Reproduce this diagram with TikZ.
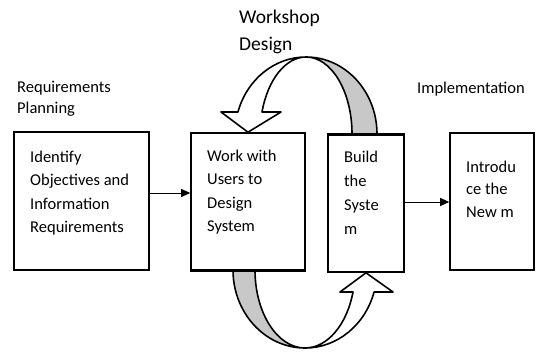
\documentclass[tikz,border=0pt]{standalone}
\usepackage{fontspec}
\setmainfont{Carlito}
\usetikzlibrary{arrows.meta}
\definecolor{bandgrey}{RGB}{200,200,200}
\tikzset{
  stage/.style={draw, line width=1.6pt, inner sep=0pt},
  boxtext/.style={anchor=north west, inner sep=0pt, align=left, font=\fontsize{16.5}{23.5}\selectfont},
  flow/.style={line width=1pt, -{Triangle[length=9pt,width=8pt]}},
  bendarrow/.style={line width=1.6pt, line join=round}
}
\begin{document}
\begin{tikzpicture}[x=1pt,y=-1pt]

    % Fix the page to the size of the reference
    \useasboundingbox (0,0) rectangle (536,353);

    % Centres of the two bent arrows
    \coordinate (topc) at (306,134);
    \coordinate (botc) at (305,270);

    % The four stages of the process
    \node[stage, minimum width=135pt, minimum height=138pt] (ident) at (81.5,201) {};
    \node[stage, minimum width=114pt, minimum height=137pt] (work) at (248,201.5) {};
    \node[stage, minimum width=76pt, minimum height=137pt] (build) at (366,203.5) {};
    \node[stage, minimum width=84pt, minimum height=137pt] (intro) at (492,201.5) {};

    % Grey back of the upper arrow, rising from the build box
    \draw[bendarrow, fill=bandgrey] (topc) ++(71,0)
        arc[start angle=0, end angle=-90, x radius=71, y radius=77]
        arc[start angle=-90, end angle=0, x radius=46, y radius=77] -- cycle;

    % White front of the upper arrow, coming down onto the work box
    \draw[bendarrow, fill=white] (topc) ++(0,-77)
        arc[start angle=-90, end angle=-163.4, x radius=71, y radius=77]
        -- (221,112) -- (work.north) -- (281,112) -- (262,112)
        arc[start angle=-163.4, end angle=-90, x radius=46, y radius=77] -- cycle;

    % Grey back of the lower arrow, leaving the work box
    \draw[bendarrow, fill=bandgrey] (botc) ++(-72,0)
        arc[start angle=180, end angle=90, x radius=72, y radius=78]
        arc[start angle=90, end angle=180, x radius=50, y radius=78] -- cycle;

    % White front of the lower arrow, going up into the build box
    \draw[bendarrow, fill=white] (botc) ++(0,78)
        arc[start angle=90, end angle=16.4, x radius=72, y radius=78]
        -- (393,292) -- (build.south) -- (340,292) -- (353,292)
        arc[start angle=16.4, end angle=90, x radius=50, y radius=78] -- cycle;

    % Redraw the box borders over the arrow ends
    \draw[line width=1.6pt] (work.south west) -- (work.south east);
    \draw[line width=1.6pt] (build.north west) -- (build.north east);

    % Straight arrows between the stages
    \draw[flow] ([yshift=8pt]ident.east) -- ([yshift=8pt]ident.east -| work.west);
    \draw[flow] ([yshift=1.5pt]build.east) -- ([yshift=1.5pt]build.east -| intro.west);

    % Texts inside the boxes
    \node[boxtext] (identtext) at (30,150.5) {Identify\\Objectives and\\Information\\Requirements};
    \node[boxtext] (worktext) at (207,149.5) {Work with\\Users to\\Design\\System};
    \node[boxtext, font=\fontsize{16.5}{24}\selectfont] (buildtext) at (344,150.5) {Build\\the\\Syste\\m};
    \node[boxtext, font=\fontsize{16.5}{22.5}\selectfont] (introtext) at (466,160.5) {Introdu\\ce the\\New m};

    % Phase names above the boxes
    \node[boxtext, font=\fontsize{19.5}{27.5}\selectfont] (workshop) at (239,9.5) {Workshop\\Design};
    \node[boxtext, font=\fontsize{16.5}{21}\selectfont] (rap) at (17,80.5) {Requirements\\Planning};
    \node[boxtext] (impl) at (417,81.5) {Implementation};

\end{tikzpicture}
\end{document}
